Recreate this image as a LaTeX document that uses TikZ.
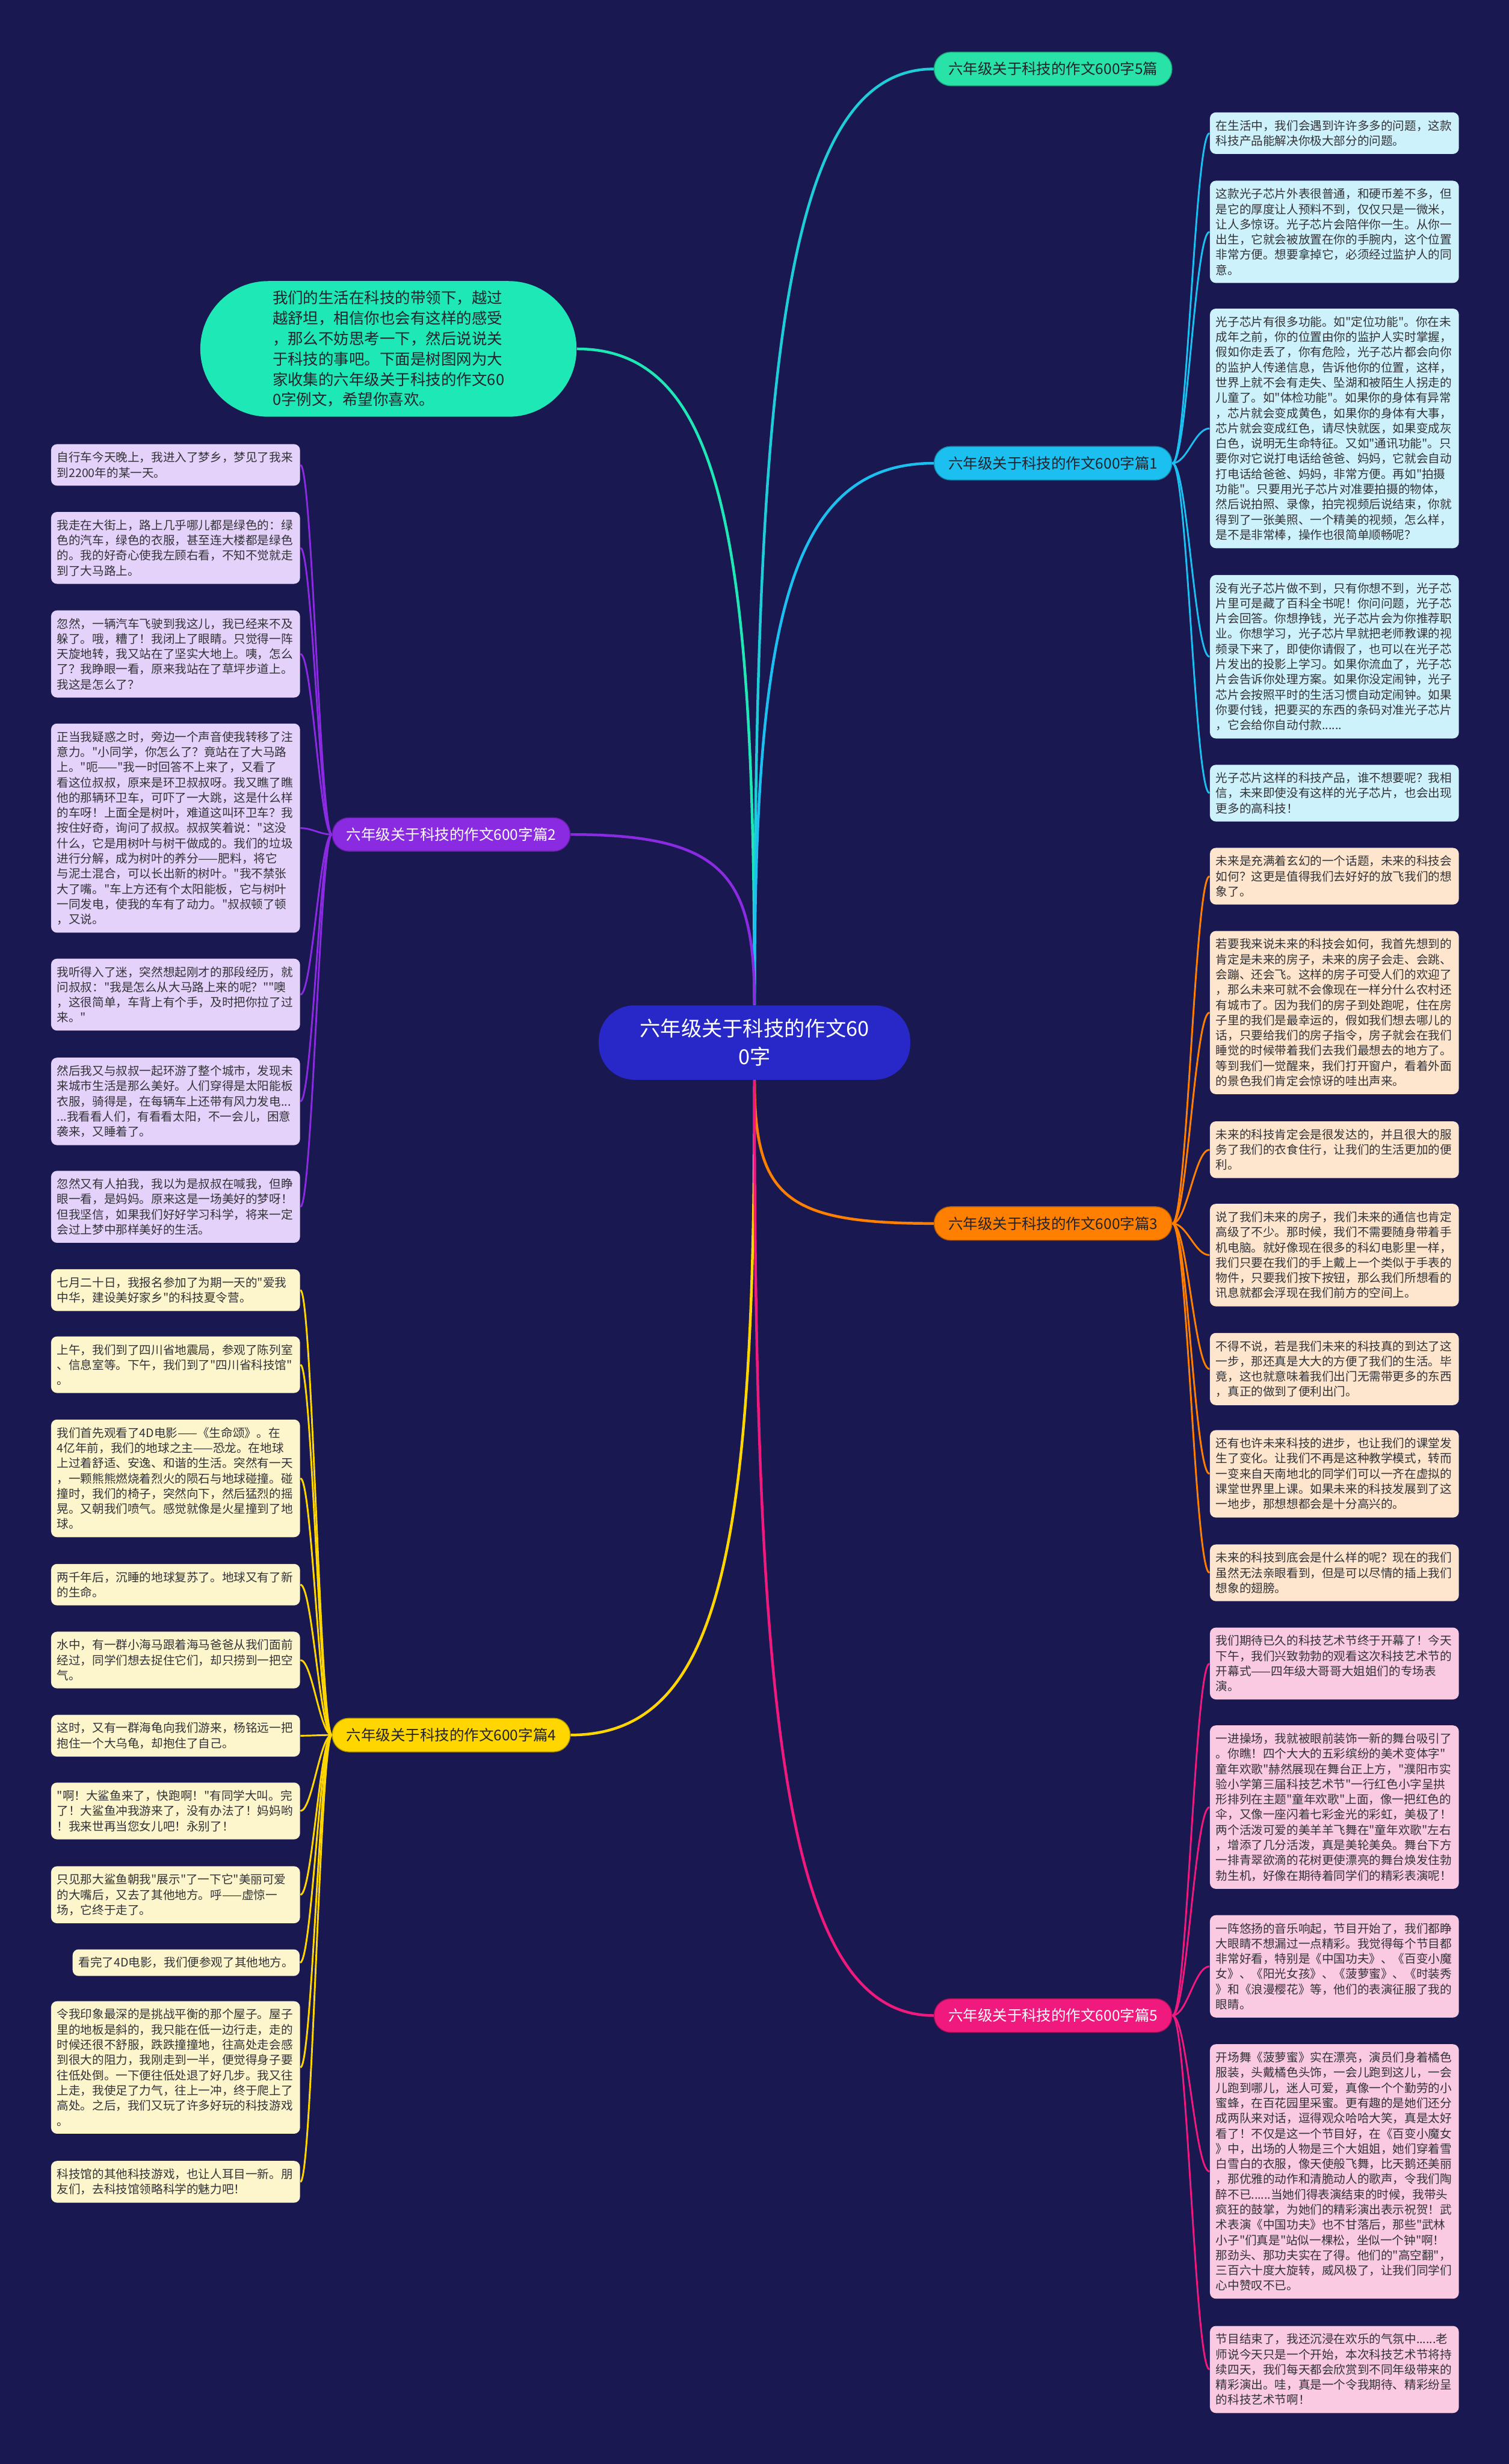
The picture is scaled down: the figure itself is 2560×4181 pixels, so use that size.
\documentclass[tikz,border=0pt]{standalone}
\usepackage{fontspec}
\setmainfont{Noto Sans CJK SC}[Ligatures=TeXOff]
\usetikzlibrary{calc}

\definecolor{bg}{RGB}{25,24,80}
\definecolor{rootblue}{RGB}{40,40,200}
\definecolor{mint}{RGB}{30,233,182}
\definecolor{allgreen}{RGB}{40,226,168}
\definecolor{allline}{RGB}{30,205,215}
\definecolor{cyanb}{RGB}{28,192,240}
\definecolor{cyanpale}{RGB}{206,242,252}
\definecolor{purpleb}{RGB}{138,43,226}
\definecolor{purplepale}{RGB}{228,210,250}
\definecolor{orangeb}{RGB}{255,128,0}
\definecolor{orangepale}{RGB}{253,230,205}
\definecolor{yellowb}{RGB}{255,214,0}
\definecolor{yellowpale}{RGB}{253,246,205}
\definecolor{pinkb}{RGB}{240,25,125}
\definecolor{pinkpale}{RGB}{249,202,226}
\definecolor{leaftext}{RGB}{50,50,55}
\definecolor{darktext}{RGB}{35,35,45}

\tikzset{
    mind map/.style = {x=0.01cm, y=-0.01cm},
    title/.style    = {fill=rootblue, rounded corners=0.6cm,
                       minimum width=5.28cm, minimum height=1.26cm,
                       text=white, align=center,
                       font=\fontsize{9.96pt}{13.66pt}\selectfont},
    intro/.style    = {fill=mint, rounded corners=1.15cm,
                       minimum width=6.38cm, minimum height=2.3cm,
                       text=darktext, align=left,
                       font=\fontsize{7.4pt}{9.82pt}\selectfont},
    branch/.style   = {fill=#1, draw=#1!70!black, line width=0.4pt,
                       rounded corners=0.28cm, minimum height=0.57cm,
                       inner xsep=0.24cm, text=darktext,
                       font=\fontsize{7.11pt}{8pt}\selectfont},
    leaf/.style     = {fill=#1, rounded corners=0.1cm, text width=4.02cm,
                       align=left, inner xsep=0.1cm, inner ysep=0.13cm,
                       text=leaftext,
                       font=\fontsize{5.69pt}{7.34pt}\selectfont},
    trunk/.style    = {line width=1.3pt},
    twig/.style     = {line width=0.85pt}
}

\begin{document}
\begin{tikzpicture}[mind map]

\useasboundingbox (0,0) rectangle (2560,4181);
\fill[bg] (0,0) rectangle (2560,4181);

% ================= Root and summary =================
\node[title] (title) at (1280,1769) {六年级关于科技的作文60\\0字};

\node[intro] (intro) at (659,592) {我们的生活在科技的带领下，越过\\
越舒坦，相信你也会有这样的感受\\
，那么不妨思考一下，然后说说关\\
于科技的事吧。下面是树图网为大\\
家收集的六年级关于科技的作文60\\
0字例文，希望你喜欢。};

% ================= Branches =================
\node[branch=allgreen, anchor=west] (all) at (1584,117) {六年级关于科技的作文600字5篇};
\node[branch=cyanb, anchor=west] (p1) at (1584,786) {六年级关于科技的作文600字篇1};
\node[branch=purpleb, anchor=east, text=white] (p2) at (968,1416) {六年级关于科技的作文600字篇2};
\node[branch=orangeb, anchor=west] (p3) at (1584,2076) {六年级关于科技的作文600字篇3};
\node[branch=yellowb, anchor=east] (p4) at (968,2944) {六年级关于科技的作文600字篇4};
\node[branch=pinkb, anchor=west, text=white] (p5) at (1584,3420) {六年级关于科技的作文600字篇5};

% ================= Essay 1 =================
\node[leaf=cyanpale, anchor=north west] (p1a) at (2052,190) {在生活中，我们会遇到许许多多的问题，这款\\
科技产品能解决你极大部分的问题。};
\node[leaf=cyanpale, anchor=north west] (p1b) at (2052,306) {这款光子芯片外表很普通，和硬币差不多，但\\
是它的厚度让人预料不到，仅仅只是一微米，\\
让人多惊讶。光子芯片会陪伴你一生。从你一\\
出生，它就会被放置在你的手腕内，这个位置\\
非常方便。想要拿掉它，必须经过监护人的同\\
意。};
\node[leaf=cyanpale, anchor=north west] (p1c) at (2052,523) {光子芯片有很多功能。如"定位功能"。你在未\\
成年之前，你的位置由你的监护人实时掌握，\\
假如你走丢了，你有危险，光子芯片都会向你\\
的监护人传递信息，告诉他你的位置，这样，\\
世界上就不会有走失、坠湖和被陌生人拐走的\\
儿童了。如"体检功能"。如果你的身体有异常\\
，芯片就会变成黄色，如果你的身体有大事，\\
芯片就会变成红色，请尽快就医，如果变成灰\\
白色，说明无生命特征。又如"通讯功能"。只\\
要你对它说打电话给爸爸、妈妈，它就会自动\\
打电话给爸爸、妈妈，非常方便。再如"拍摄\\
功能"。只要用光子芯片对准要拍摄的物体，\\
然后说拍照、录像，拍完视频后说结束，你就\\
得到了一张美照、一个精美的视频，怎么样，\\
是不是非常棒，操作也很简单顺畅呢？};
\node[leaf=cyanpale, anchor=north west] (p1d) at (2052,975) {没有光子芯片做不到，只有你想不到，光子芯\\
片里可是藏了百科全书呢！你问问题，光子芯\\
片会回答。你想挣钱，光子芯片会为你推荐职\\
业。你想学习，光子芯片早就把老师教课的视\\
频录下来了，即使你请假了，也可以在光子芯\\
片发出的投影上学习。如果你流血了，光子芯\\
片会告诉你处理方案。如果你没定闹钟，光子\\
芯片会按照平时的生活习惯自动定闹钟。如果\\
你要付钱，把要买的东西的条码对准光子芯片\\
，它会给你自动付款......};
\node[leaf=cyanpale, anchor=north west] (p1e) at (2052,1297) {光子芯片这样的科技产品，谁不想要呢？我相\\
信，未来即使没有这样的光子芯片，也会出现\\
更多的高科技！};

% ================= Essay 3 =================
\node[leaf=orangepale, anchor=north west] (p3a) at (2052,1438) {未来是充满着玄幻的一个话题，未来的科技会\\
如何？这更是值得我们去好好的放飞我们的想\\
象了。};
\node[leaf=orangepale, anchor=north west] (p3b) at (2052,1579) {若要我来说未来的科技会如何，我首先想到的\\
肯定是未来的房子，未来的房子会走、会跳、\\
会蹦、还会飞。这样的房子可受人们的欢迎了\\
，那么未来可就不会像现在一样分什么农村还\\
有城市了。因为我们的房子到处跑呢，住在房\\
子里的我们是最幸运的，假如我们想去哪儿的\\
话，只要给我们的房子指令，房子就会在我们\\
睡觉的时候带着我们去我们最想去的地方了。\\
等到我们一觉醒来，我们打开窗户，看着外面\\
的景色我们肯定会惊讶的哇出声来。};
\node[leaf=orangepale, anchor=north west] (p3c) at (2052,1902) {未来的科技肯定会是很发达的，并且很大的服\\
务了我们的衣食住行，让我们的生活更加的便\\
利。};
\node[leaf=orangepale, anchor=north west] (p3d) at (2052,2042) {说了我们未来的房子，我们未来的通信也肯定\\
高级了不少。那时候，我们不需要随身带着手\\
机电脑。就好像现在很多的科幻电影里一样，\\
我们只要在我们的手上戴上一个类似于手表的\\
物件，只要我们按下按钮，那么我们所想看的\\
讯息就都会浮现在我们前方的空间上。};
\node[leaf=orangepale, anchor=north west] (p3e) at (2052,2261) {不得不说，若是我们未来的科技真的到达了这\\
一步，那还真是大大的方便了我们的生活。毕\\
竟，这也就意味着我们出门无需带更多的东西\\
，真正的做到了便利出门。};
\node[leaf=orangepale, anchor=north west] (p3f) at (2052,2426) {还有也许未来科技的进步，也让我们的课堂发\\
生了变化。让我们不再是这种教学模式，转而\\
一变来自天南地北的同学们可以一齐在虚拟的\\
课堂世界里上课。如果未来的科技发展到了这\\
一地步，那想想都会是十分高兴的。};
\node[leaf=orangepale, anchor=north west] (p3g) at (2052,2620) {未来的科技到底会是什么样的呢？现在的我们\\
虽然无法亲眼看到，但是可以尽情的插上我们\\
想象的翅膀。};

% ================= Essay 5 =================
\node[leaf=pinkpale, anchor=north west] (p5a) at (2052,2761) {我们期待已久的科技艺术节终于开幕了！今天\\
下午，我们兴致勃勃的观看这次科技艺术节的\\
开幕式——四年级大哥哥大姐姐们的专场表\\
演。};
\node[leaf=pinkpale, anchor=north west] (p5b) at (2052,2927) {一进操场，我就被眼前装饰一新的舞台吸引了\\
。你瞧！四个大大的五彩缤纷的美术变体字"\\
童年欢歌"赫然展现在舞台正上方，"濮阳市实\\
验小学第三届科技艺术节"一行红色小字呈拱\\
形排列在主题"童年欢歌"上面，像一把红色的\\
伞，又像一座闪着七彩金光的彩虹，美极了！\\
两个活泼可爱的美羊羊飞舞在"童年欢歌"左右\\
，增添了几分活泼，真是美轮美奂。舞台下方\\
一排青翠欲滴的花树更使漂亮的舞台焕发住勃\\
勃生机，好像在期待着同学们的精彩表演呢！};
\node[leaf=pinkpale, anchor=north west] (p5c) at (2052,3249) {一阵悠扬的音乐响起，节目开始了，我们都睁\\
大眼睛不想漏过一点精彩。我觉得每个节目都\\
非常好看，特别是《中国功夫》、《百变小魔\\
女》、《阳光女孩》、《菠萝蜜》、《时装秀\\
》和《浪漫樱花》等，他们的表演征服了我的\\
眼睛。};
\node[leaf=pinkpale, anchor=north west] (p5d) at (2052,3468) {开场舞《菠萝蜜》实在漂亮，演员们身着橘色\\
服装，头戴橘色头饰，一会儿跑到这儿，一会\\
儿跑到哪儿，迷人可爱，真像一个个勤劳的小\\
蜜蜂，在百花园里采蜜。更有趣的是她们还分\\
成两队来对话，逗得观众哈哈大笑，真是太好\\
看了！不仅是这一个节目好，在《百变小魔女\\
》中，出场的人物是三个大姐姐，她们穿着雪\\
白雪白的衣服，像天使般飞舞，比天鹅还美丽\\
，那优雅的动作和清脆动人的歌声，令我们陶\\
醉不已......当她们得表演结束的时候，我带头\\
疯狂的鼓掌，为她们的精彩演出表示祝贺！武\\
术表演《中国功夫》也不甘落后，那些"武林\\
小子"们真是"站似一棵松，坐似一个钟"啊！\\
那劲头、那功夫实在了得。他们的"高空翻"，\\
三百六十度大旋转，威风极了，让我们同学们\\
心中赞叹不已。};
\node[leaf=pinkpale, anchor=north west] (p5e) at (2052,3946) {节目结束了，我还沉浸在欢乐的气氛中......老\\
师说今天只是一个开始，本次科技艺术节将持\\
续四天，我们每天都会欣赏到不同年级带来的\\
精彩演出。哇，真是一个令我期待、精彩纷呈\\
的科技艺术节啊！};

% ================= Essay 2 =================
\node[leaf=purplepale, anchor=north west] (p2a) at (86,753) {自行车今天晚上，我进入了梦乡，梦见了我来\\
到2200年的某一天。};
\node[leaf=purplepale, anchor=north west] (p2b) at (86,868) {我走在大街上，路上几乎哪儿都是绿色的：绿\\
色的汽车，绿色的衣服，甚至连大楼都是绿色\\
的。我的好奇心使我左顾右看，不知不觉就走\\
到了大马路上。};
\node[leaf=purplepale, anchor=north west] (p2c) at (86,1035) {忽然，一辆汽车飞驶到我这儿，我已经来不及\\
躲了。哦，糟了！我闭上了眼睛。只觉得一阵\\
天旋地转，我又站在了坚实大地上。咦，怎么\\
了？我睁眼一看，原来我站在了草坪步道上。\\
我这是怎么了？};
\node[leaf=purplepale, anchor=north west] (p2d) at (86,1227) {正当我疑惑之时，旁边一个声音使我转移了注\\
意力。"小同学，你怎么了？竟站在了大马路\\
上。"呃——"我一时回答不上来了，又看了\\
看这位叔叔，原来是环卫叔叔呀。我又瞧了瞧\\
他的那辆环卫车，可吓了一大跳，这是什么样\\
的车呀！上面全是树叶，难道这叫环卫车？我\\
按住好奇，询问了叔叔。叔叔笑着说："这没\\
什么，它是用树叶与树干做成的。我们的垃圾\\
进行分解，成为树叶的养分——肥料，将它\\
与泥土混合，可以长出新的树叶。"我不禁张\\
大了嘴。"车上方还有个太阳能板，它与树叶\\
一同发电，使我的车有了动力。"叔叔顿了顿\\
，又说。};
\node[leaf=purplepale, anchor=north west] (p2e) at (86,1626) {我听得入了迷，突然想起刚才的那段经历，就\\
问叔叔："我是怎么从大马路上来的呢？""噢\\
，这很简单，车背上有个手，及时把你拉了过\\
来。"};
\node[leaf=purplepale, anchor=north west] (p2f) at (86,1794) {然后我又与叔叔一起环游了整个城市，发现未\\
来城市生活是那么美好。人们穿得是太阳能板\\
衣服，骑得是，在每辆车上还带有风力发电...\\
...我看看人们，有看看太阳，不一会儿，困意\\
袭来，又睡着了。};
\node[leaf=purplepale, anchor=north west] (p2g) at (86,1986) {忽然又有人拍我，我以为是叔叔在喊我，但睁\\
眼一看，是妈妈。原来这是一场美好的梦呀！\\
但我坚信，如果我们好好学习科学，将来一定\\
会过上梦中那样美好的生活。};

% ================= Essay 4 =================
\node[leaf=yellowpale, anchor=north west] (p4a) at (86,2153) {七月二十日，我报名参加了为期一天的"爱我\\
中华，建设美好家乡"的科技夏令营。};
\node[leaf=yellowpale, anchor=north west] (p4b) at (86,2267) {上午，我们到了四川省地震局，参观了陈列室\\
、信息室等。下午，我们到了"四川省科技馆"\\
。};
\node[leaf=yellowpale, anchor=north west] (p4c) at (86,2408) {我们首先观看了4D电影——《生命颂》。在\\
4亿年前，我们的地球之主——恐龙。在地球\\
上过着舒适、安逸、和谐的生活。突然有一天\\
，一颗熊熊燃烧着烈火的陨石与地球碰撞。碰\\
撞时，我们的椅子，突然向下，然后猛烈的摇\\
晃。又朝我们喷气。感觉就像是火星撞到了地\\
球。};
\node[leaf=yellowpale, anchor=north west] (p4d) at (86,2653) {两千年后，沉睡的地球复苏了。地球又有了新\\
的生命。};
\node[leaf=yellowpale, anchor=north west] (p4e) at (86,2768) {水中，有一群小海马跟着海马爸爸从我们面前\\
经过，同学们想去捉住它们，却只捞到一把空\\
气。};
\node[leaf=yellowpale, anchor=north west] (p4f) at (86,2909) {这时，又有一群海龟向我们游来，杨铭远一把\\
抱住一个大乌龟，却抱住了自己。};
\node[leaf=yellowpale, anchor=north west] (p4g) at (86,3024) {"啊！大鲨鱼来了，快跑啊！"有同学大叫。完\\
了！大鲨鱼冲我游来了，没有办法了！妈妈哟\\
！我来世再当您女儿吧！永别了！};
\node[leaf=yellowpale, anchor=north west] (p4h) at (86,3166) {只见那大鲨鱼朝我"展示"了一下它"美丽可爱\\
的大嘴后，又去了其他地方。呼——虚惊一\\
场，它终于走了。};
\node[leaf=yellowpale, anchor=north east, text width=, align=left] (p4i) at (509,3307) {看完了4D电影，我们便参观了其他地方。};
\node[leaf=yellowpale, anchor=north west] (p4j) at (86,3395) {令我印象最深的是挑战平衡的那个屋子。屋子\\
里的地板是斜的，我只能在低一边行走，走的\\
时候还很不舒服，跌跌撞撞地，往高处走会感\\
到很大的阻力，我刚走到一半，便觉得身子要\\
往低处倒。一下便往低处退了好几步。我又往\\
上走，我使足了力气，往上一冲，终于爬上了\\
高处。之后，我们又玩了许多好玩的科技游戏\\
。};
\node[leaf=yellowpale, anchor=north west] (p4k) at (86,3666) {科技馆的其他科技游戏，也让人耳目一新。朋\\
友们，去科技馆领略科学的魅力吧！};

% ================= Root connectors =================
\draw[trunk, mint] (title.north) .. controls +(0,-780) and +(250,0) .. (intro.east);
\draw[trunk, allline] (title.north) .. controls +(0,-1100) and +(-250,0) .. (all.west);
\draw[trunk, cyanb] (title.north) .. controls +(0,-640) and +(-250,0) .. (p1.west);
\draw[trunk, purpleb] (title.north) .. controls +(0,-220) and +(260,0) .. (p2.east);
\draw[trunk, orangeb] (title.south) .. controls +(0,200) and +(-250,0) .. (p3.west);
\draw[trunk, yellowb] (title.south) .. controls +(0,780) and +(260,0) .. (p4.east);
\draw[trunk, pinkb] (title.south) .. controls +(0,1100) and +(-250,0) .. (p5.west);

% ================= Leaf connectors =================
\foreach \n in {p1a,p1b,p1c,p1d,p1e}
    \draw[twig, cyanb] (p1.east) .. controls +(25,0) and +(-25,0) .. (\n.west);
\foreach \n in {p3a,p3b,p3c,p3d,p3e,p3f,p3g}
    \draw[twig, orangeb] (p3.east) .. controls +(25,0) and +(-25,0) .. (\n.west);
\foreach \n in {p5a,p5b,p5c,p5d,p5e}
    \draw[twig, pinkb] (p5.east) .. controls +(25,0) and +(-25,0) .. (\n.west);
\foreach \n in {p2a,p2b,p2c,p2d,p2e,p2f,p2g}
    \draw[twig, purpleb] (p2.west) .. controls +(-20,0) and +(20,0) .. (\n.east);
\foreach \n in {p4a,p4b,p4c,p4d,p4e,p4f,p4g,p4h,p4i,p4j,p4k}
    \draw[twig, yellowb] (p4.west) .. controls +(-20,0) and +(20,0) .. (\n.east);

\end{tikzpicture}
\end{document}
